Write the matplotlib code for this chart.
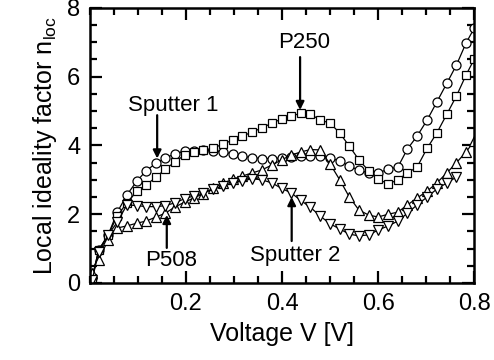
import numpy as np
from matplotlib import pyplot as plt

plt.rcParams['font.family'] = ['Liberation Sans', 'DejaVu Sans']
plt.rcParams['mathtext.fontset'] = 'custom'
plt.rcParams['mathtext.rm'] = 'Liberation Sans'

# voltage points (V)
volt = [0.005, 0.018, 0.038, 0.057, 0.077, 0.098, 0.117, 0.138, 0.157, 0.177,
        0.197, 0.216, 0.236, 0.256, 0.277, 0.298, 0.317, 0.338, 0.358, 0.379,
        0.399, 0.419, 0.439, 0.459, 0.479, 0.500, 0.520, 0.540, 0.560, 0.581,
        0.600, 0.621, 0.641, 0.661, 0.681, 0.702, 0.722, 0.743, 0.763, 0.783,
        0.800]

# Sputter 1 (circles)
n_sputter1 = [0.15, 0.95, 1.40, 2.06, 2.56, 2.97, 3.26, 3.49, 3.63, 3.76,
              3.83, 3.85, 3.86, 3.85, 3.81, 3.75, 3.69, 3.64, 3.62, 3.62,
              3.63, 3.66, 3.69, 3.70, 3.70, 3.63, 3.55, 3.40, 3.28, 3.20,
              3.20, 3.31, 3.37, 3.90, 4.27, 4.74, 5.26, 5.81, 6.34, 6.98,
              7.41]
# P250 (squares)
n_p250 = [0.15, 0.95, 1.40, 1.95, 2.33, 2.67, 2.85, 3.08, 3.31, 3.52,
          3.72, 3.80, 3.86, 3.92, 4.04, 4.16, 4.27, 4.39, 4.51, 4.65,
          4.77, 4.85, 4.94, 4.91, 4.74, 4.65, 4.36, 3.98, 3.58, 3.25,
          3.02, 2.88, 3.00, 3.20, 3.37, 3.92, 4.36, 4.91, 5.44, 6.05,
          6.51]
# P508 (up triangles)
n_p508 = [0.30, 0.67, 1.25, 1.60, 1.66, 1.74, 1.80, 1.92, 2.03, 2.21,
          2.35, 2.47, 2.60, 2.75, 2.90, 3.02, 3.11, 3.20, 3.29, 3.43,
          3.58, 3.72, 3.81, 3.88, 3.87, 3.46, 3.00, 2.50, 2.12, 1.97,
          1.92, 2.00, 2.06, 2.27, 2.47, 2.67, 2.91, 3.20, 3.50, 3.81,
          4.13]
# Sputter 2 (down triangles), last point missing
n_sputter2 = [0.10, 0.90, 1.40, 1.77, 2.27, 2.25, 2.22, 2.22, 2.25, 2.33,
              2.45, 2.53, 2.62, 2.72, 2.82, 2.90, 2.97, 3.03, 3.00, 2.91,
              2.75, 2.62, 2.40, 2.20, 1.95, 1.72, 1.57, 1.42, 1.37, 1.40,
              1.54, 1.66, 1.80, 2.03, 2.27, 2.50, 2.73, 2.91, 3.08]

fig = plt.figure(figsize=(4.94, 3.6), dpi=100)
ax = fig.add_axes([0.182, 0.214, 0.778, 0.764])

mk = dict(color='k', lw=0.9, mfc='white', mec='k', mew=0.9)
ax.plot(volt, n_sputter1, marker='o', ms=6.5, **mk)
ax.plot(volt, n_p250, marker='s', ms=6, **mk)
ax.plot(volt, n_p508, marker='^', ms=7, **mk)
ax.plot(volt[:len(n_sputter2)], n_sputter2, marker='v', ms=7, **mk)

# labels with arrows (text not centred on the arrow)
arr = dict(arrowstyle='-|>', color='k', lw=1.6, mutation_scale=12, shrinkA=0, shrinkB=0)
ax.text(0.173, 5.15, 'Sputter 1', ha='center', va='center', fontsize=16)
ax.annotate('', xy=(0.14, 3.62), xytext=(0.14, 4.88), arrowprops=arr)
ax.text(0.446, 7.0, 'P250', ha='center', va='center', fontsize=16)
ax.annotate('', xy=(0.4375, 5.03), xytext=(0.4375, 6.57), arrowprops=arr)
ax.text(0.169, 0.64, 'P508', ha='center', va='center', fontsize=16)
ax.annotate('', xy=(0.16, 1.98), xytext=(0.16, 1.02), arrowprops=arr)
ax.text(0.427, 0.81, 'Sputter 2', ha='center', va='center', fontsize=16)
ax.annotate('', xy=(0.42, 2.5), xytext=(0.42, 1.22), arrowprops=arr)

ax.set_xlim(0, 0.8)
ax.set_ylim(0, 8)
ax.set_xticks([0.2, 0.4, 0.6, 0.8])
ax.set_xticks(np.arange(0, 0.81, 0.05), minor=True)
ax.set_yticks([0, 2, 4, 6, 8])
ax.set_yticks(np.arange(0, 8.1, 0.5), minor=True)
ax.tick_params(which='both', direction='in', top=True, right=True, width=1.6, labelsize=17)
ax.tick_params(which='major', length=8.5, pad=7)
ax.tick_params(which='minor', length=5)
for s in ax.spines.values():
    s.set_linewidth(1.8)

ax.set_xlabel('Voltage V [V]', fontsize=18, labelpad=5)
ax.set_ylabel(r'Local ideality factor n$_{\mathregular{loc}}$', fontsize=18, labelpad=6)

fig.savefig('out.png', dpi=100)
